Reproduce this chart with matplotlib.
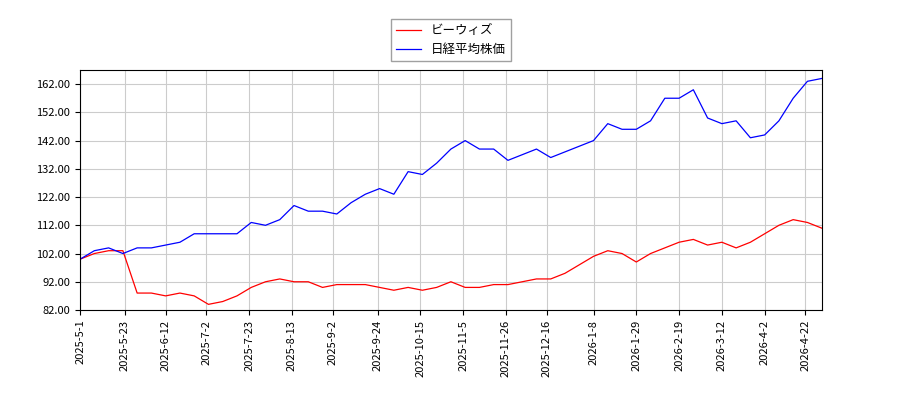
import matplotlib
matplotlib.use('Agg')
import matplotlib.pyplot as plt
import matplotlib.dates as mdates
import pandas as pd

plt.rcParams['font.family'] = ['Noto Sans CJK JP', 'DejaVu Sans']

dates = pd.date_range('2025-05-01', periods=53, freq='7D')
company = [100, 102, 103, 103, 88, 88, 87, 88, 87, 84, 85, 87, 90, 92, 93, 92, 92, 90,
           91, 91, 91, 90, 89, 90, 89, 90, 92, 90, 90, 91, 91, 92, 93, 93, 95, 98, 101,
           103, 102, 99, 102, 104, 106, 107, 105, 106, 104, 106, 109, 112, 114, 113, 111]
nikkei = [100, 103, 104, 102, 104, 104, 105, 106, 109, 109, 109, 109, 113, 112, 114, 119,
          117, 117, 116, 120, 123, 125, 123, 131, 130, 134, 139, 142, 139, 139, 135, 137,
          139, 136, 138, 140, 142, 148, 146, 146, 149, 157, 157, 160, 150, 148, 149, 143,
          144, 149, 157, 163, 164]
ticks = pd.to_datetime(['2025-5-1', '2025-5-23', '2025-6-12', '2025-7-2', '2025-7-23',
                        '2025-8-13', '2025-9-2', '2025-9-24', '2025-10-15', '2025-11-5',
                        '2025-11-26', '2025-12-16', '2026-1-8', '2026-1-29', '2026-2-19',
                        '2026-3-12', '2026-4-2', '2026-4-22'])

fig, ax = plt.subplots(figsize=(9, 4), dpi=100)
fig.subplots_adjust(left=0.089, right=0.913, top=0.825, bottom=0.225)
ax.plot(dates, company, color='red', lw=0.9, label='ビーウィズ')
ax.plot(dates, nikkei, color='blue', lw=0.9, label='日経平均株価')
ax.set_xlim(dates[0], dates[-1])
ax.set_ylim(82, 167)
ax.set_yticks(range(82, 163, 10))
ax.yaxis.set_major_formatter(matplotlib.ticker.FormatStrFormatter('%.2f'))
ax.set_xticks(ticks)
ax.set_xticklabels([f'{d.year}-{d.month}-{d.day}' for d in ticks], rotation=90)
ax.tick_params(labelsize=8)
ax.grid(True, color='#cccccc')
ax.legend(loc='lower center', bbox_to_anchor=(0.5, 1.01), fontsize=9, fancybox=False,
          edgecolor='#888888')
fig.savefig('out.png')
